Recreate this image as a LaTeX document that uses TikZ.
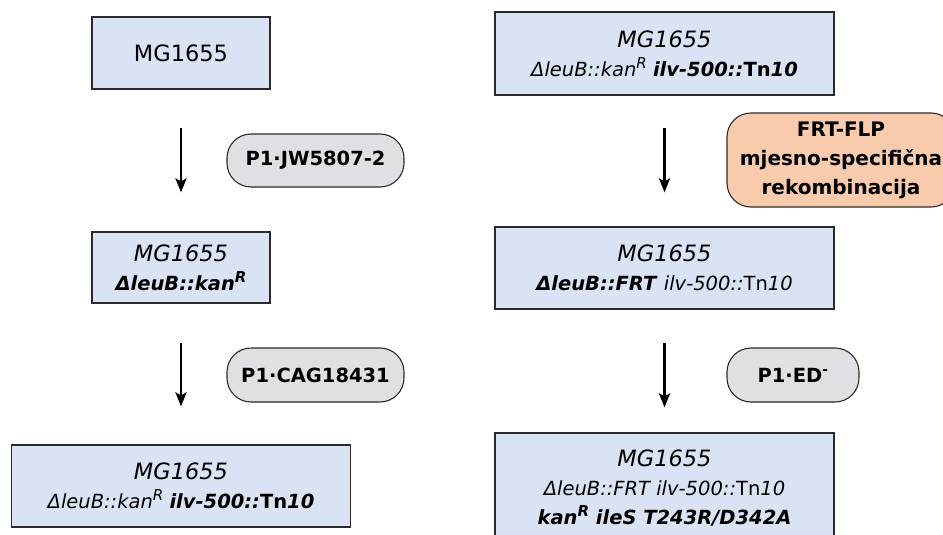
\documentclass[tikz,border=0pt]{standalone}
\usepackage{fontspec}
\setmainfont{DejaVu Sans}
\usetikzlibrary{arrows.meta}
\definecolor{boxfill}{HTML}{DAE3F3}
\definecolor{pillfill}{HTML}{DEE0E4}
\definecolor{orangefill}{HTML}{F8CBAD}
\definecolor{edge}{HTML}{2A2A2A}
\tikzset{
  strain/.style={draw=edge, line width=1.2pt, fill=boxfill, align=center, inner sep=0pt,
    font=\fontsize{19.5}{29}\selectfont},
  pill/.style={draw=edge, line width=1.1pt, fill=pillfill, rounded corners=24pt, align=center,
    inner sep=0pt, font=\fontsize{19.5}{29}\selectfont\bfseries},
  arr/.style={line width=2.9pt, -{Stealth[length=14pt,width=11pt,inset=3pt]}},
}
\newcommand{\mgsize}[1]{{\fontsize{22.5}{29}\selectfont #1}}
\newcommand{\supR}{\raisebox{0.42em}{\fontsize{15}{15}\selectfont R}}
\begin{document}
\begin{tikzpicture}[x=1pt,y=-1pt]
\useasboundingbox (0,0) rectangle (943,535);
% left column
\node[strain, minimum width=178pt, minimum height=72pt] (b1) at (181,53) {\mgsize{MG1655}};
\node[strain, minimum width=178pt, minimum height=71pt] (b2) at (181,267.5)
  {\mgsize{\itshape MG1655}\\ \textbf{\itshape ΔleuB::kan\supR}};
\node[strain, minimum width=339pt, minimum height=82pt] (b3) at (181,486)
  {\mgsize{\itshape MG1655}\\ {\itshape ΔleuB::kan\supR} \textbf{\itshape ilv-500::}\textbf{Tn\itshape 10}};
% right column
\node[strain, minimum width=339pt, minimum height=83pt] (b4) at (664.5,53.5)
  {\mgsize{\itshape MG1655}\\ {\itshape ΔleuB::kan\supR} \textbf{\itshape ilv-500::}\textbf{Tn\itshape 10}};
\node[strain, minimum width=339pt, minimum height=82pt] (b5) at (664.5,268)
  {\mgsize{\itshape MG1655}\\ \textbf{\itshape ΔleuB::FRT} {\itshape ilv-500::}Tn{\itshape 10}};
\node[strain, minimum width=339pt, minimum height=110pt] (b6) at (664.5,488)
  {\mgsize{\itshape MG1655}\\ {\itshape ΔleuB::FRT ilv-500::}Tn{\itshape 10}\\ \textbf{\itshape kan\supR{} ileS T243R/D342A}};
% pills
\node[pill, minimum width=177pt, minimum height=53pt] (p1) at (315.5,160.5) {P1·JW5807-2};
\node[pill, minimum width=177pt, minimum height=54pt] (p2) at (315.5,375) {P1·CAG18431};
\node[pill, fill=orangefill, minimum width=228pt, minimum height=94pt, font=\fontsize{20}{29}\selectfont\bfseries] (p3) at (841,160)
  {FRT-FLP\\ mjesno-specifična\\ rekombinacija};
\node[pill, minimum width=132pt, minimum height=54pt] (p4) at (793,375) {P1·ED\textsuperscript{-}};
% arrows
\draw[arr] ([yshift=-38pt]b1.south) -- ([yshift=39pt]b2.north);
\draw[arr] ([yshift=-39pt]b2.south) -- ([yshift=38pt]b3.north);
\draw[arr] ([yshift=-32pt]b4.south) -- ([yshift=34pt]b5.north);
\draw[arr] ([yshift=-33pt]b5.south) -- ([yshift=25pt]b6.north);
\end{tikzpicture}
\end{document}
